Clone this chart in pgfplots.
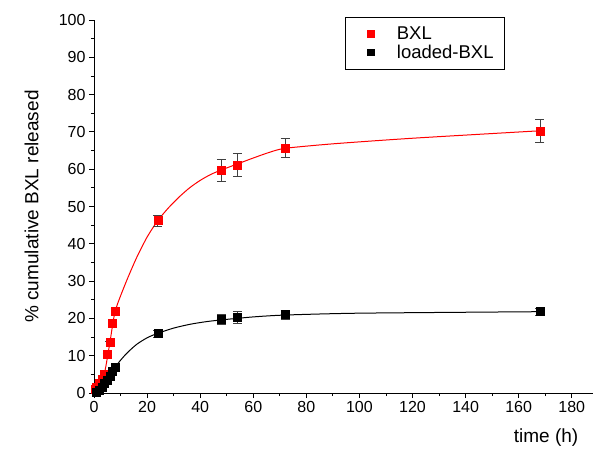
\documentclass[border=0pt]{standalone}
\usepackage{fontspec}
\setmainfont{Liberation Sans}
\usepackage{pgfplots}
\pgfplotsset{compat=1.18}

% measured points with SD
\pgfplotstableread{
t    y     e
0.5  1.0   0
1    1.6   0
2    2.6   0
3    3.6   0
4    5.0   0
5    10.5  0
6    13.7  0
7    18.8  0
8    22.0  0.8
24   46.2  1.5
48   59.7  3.0
54   61.2  3.0
72   65.7  2.6
168  70.3  3.0
}\bxl
\pgfplotstableread{
t    y     e
1    0.3   0
2    0.8   0
3    1.5   0
4    2.5   0
5    3.5   0
6    4.6   0
7    5.8   0
8    7.0   0.6
24   15.9  0.9
48   19.8  1.3
54   20.2  1.6
72   21.0  1.2
168  21.8  0.9
}\loaded
% fitted curves, traced
\pgfplotstableread{
t    y
0.5  1.0
2    2.6
4    5.5
6    13.6
8    22.0
12   29.6
16   36.2
20   41.8
24   46.2
28   49.6
32   52.5
36   55.0
40   57.0
44   58.6
48   59.8
54   61.4
60   63.0
66   64.5
72   65.6
90   66.8
120  68.3
168  70.3
}\bxlfit
\pgfplotstableread{
t    y
1    0.3
4    2.5
8    7.0
12   10.4
16   13.0
20   14.8
24   16.0
30   17.4
36   18.4
42   19.1
48   19.6
60   20.4
72   20.9
100  21.4
168  21.8
}\loadedfit

\begin{document}
\begin{tikzpicture}
\begin{axis}[at={(0,0)},anchor=origin,scale only axis,width=499pt,height=373pt,
  xmin=0,xmax=188,ymin=0,ymax=100,
  axis lines=left,axis line style={-,line width=0.8pt},
  xtick={0,20,...,180},ytick={0,10,...,100},
  minor x tick num=1,minor y tick num=1,
  tick align=outside,tick style={black,line width=0.8pt},
  major tick length=5pt,minor tick length=3pt,
  tick label style={font=\fontsize{16}{18}\selectfont},
  /pgf/number format/assume math mode=true,
  ylabel={\% cumulative BXL released},
  ylabel style={font=\fontsize{19}{21}\selectfont,at={(rel axis cs:0,0.5)},anchor=south,yshift=52pt},
  xlabel={time (h)},
  xlabel style={font=\fontsize{19}{21}\selectfont,at={(rel axis cs:0.906,0)},anchor=north,yshift=-32pt},
  legend style={at={(0.503,1.008)},anchor=north west,draw=black,line width=0.6pt,
    font=\fontsize{18.5}{20}\selectfont,inner xsep=4pt,inner ysep=7.5pt,row sep=0pt},
  legend image code/.code={\path (0pt,0pt); \draw[#1,mark size=3.3pt] plot coordinates {(21pt,0pt)};},
  legend cell align=left,
  clip=false]
\addplot[red,line width=1pt,smooth,tension=0.4,forget plot] table[x=t,y=y] {\bxlfit};
\addplot[black,line width=1pt,smooth,tension=0.4,forget plot] table[x=t,y=y] {\loadedfit};
\addplot[only marks,mark=square*,mark size=4pt,red,mark options={draw=red,fill=red},
  error bars/.cd,y dir=both,y explicit,
  error bar style={black!75,line width=0.8pt},error mark options={rotate=90,mark size=4.5pt,black!75,line width=0.8pt}]
  table[x=t,y=y,y error=e] {\bxl};
\addplot[only marks,mark=square*,mark size=4pt,black,
  error bars/.cd,y dir=both,y explicit,
  error bar style={black!75,line width=0.8pt},error mark options={rotate=90,mark size=4.5pt,black!75,line width=0.8pt}]
  table[x=t,y=y,y error=e] {\loaded};
\legend{\hspace*{21pt}BXL,\hspace*{21pt}loaded-BXL\hspace*{5pt}}
\end{axis}
\pgfresetboundingbox
\path (-94pt,-59pt) rectangle (499pt,393pt);
\end{tikzpicture}
\end{document}
